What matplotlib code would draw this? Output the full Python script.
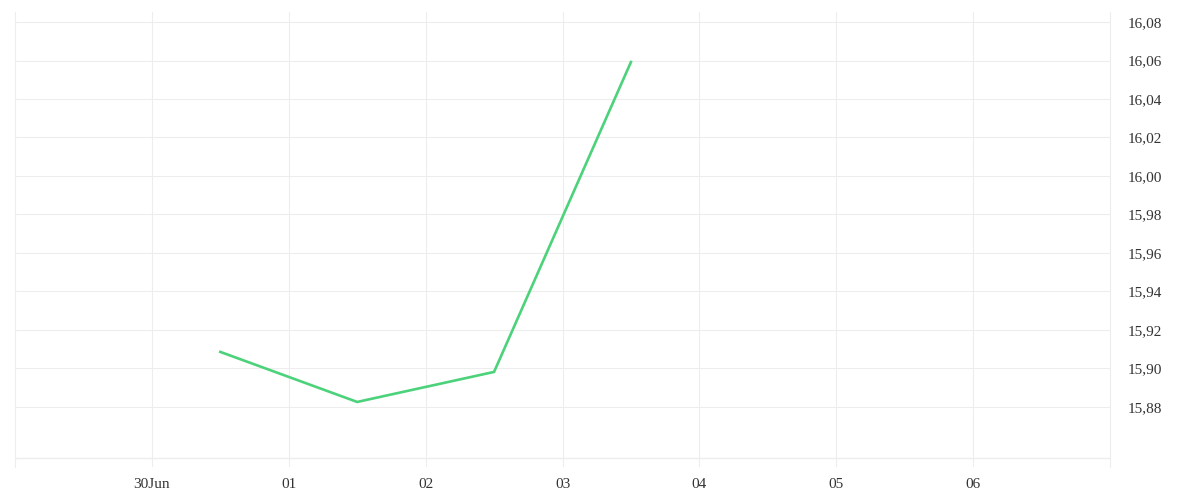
import matplotlib
matplotlib.use("Agg")
import matplotlib.pyplot as plt
import matplotlib.dates as mdates
from matplotlib.ticker import FuncFormatter, FixedLocator
import datetime as dt

# data
dates = [dt.datetime(2023, 6, 30, 12), dt.datetime(2023, 7, 1, 12),
         dt.datetime(2023, 7, 2, 12), dt.datetime(2023, 7, 3, 12)]
values = [15.9086, 15.8826, 15.8982, 16.0592]
tick_dates = [dt.datetime(2023, 6, 30), dt.datetime(2023, 7, 1), dt.datetime(2023, 7, 2),
              dt.datetime(2023, 7, 3), dt.datetime(2023, 7, 4), dt.datetime(2023, 7, 5),
              dt.datetime(2023, 7, 6)]
tick_labels = ["30Jun", "01", "02", "03", "04", "05", "06"]
y_ticks = [15.88, 15.90, 15.92, 15.94, 15.96, 15.98, 16.00, 16.02, 16.04, 16.06, 16.08]

grid_c = "#ededed"
text_c = "#333333"
font = ["Liberation Serif", "DejaVu Serif"]

fig = plt.figure(figsize=(12, 5), dpi=100)
ax = fig.add_axes([15/1200, 33/500, 1095/1200, 455/500])

ax.plot(dates, values, color="#4cd27a", linewidth=1.9, solid_joinstyle="miter", zorder=3)

ax.set_xlim(dt.datetime(2023, 6, 29), dt.datetime(2023, 7, 7))
ax.set_ylim(15.8488, 16.0852)

ax.xaxis.set_major_locator(FixedLocator(mdates.date2num(tick_dates)))
ax.set_xticklabels(tick_labels)
ax.set_yticks(y_ticks)
ax.yaxis.set_major_formatter(FuncFormatter(lambda v, p: f"{v:.2f}".replace(".", ",")))
ax.yaxis.tick_right()

ax.grid(True, color=grid_c, linewidth=0.8, zorder=0)
ax.axhline(15.8535, color=grid_c, linewidth=1.0, zorder=1)

for s in ["top", "bottom"]:
    ax.spines[s].set_visible(False)
for s in ["left", "right"]:
    ax.spines[s].set_color(grid_c)
    ax.spines[s].set_linewidth(0.8)

ax.tick_params(axis="both", length=0, colors=text_c, labelsize=11)
ax.tick_params(axis="x", pad=8)
ax.tick_params(axis="y", pad=12.5)
for lab in ax.get_xticklabels() + ax.get_yticklabels():
    lab.set_fontfamily(font)
for lab in ax.get_yticklabels():
    lab.set_horizontalalignment("left")

fig.savefig("out.png", dpi=100, facecolor="white")
